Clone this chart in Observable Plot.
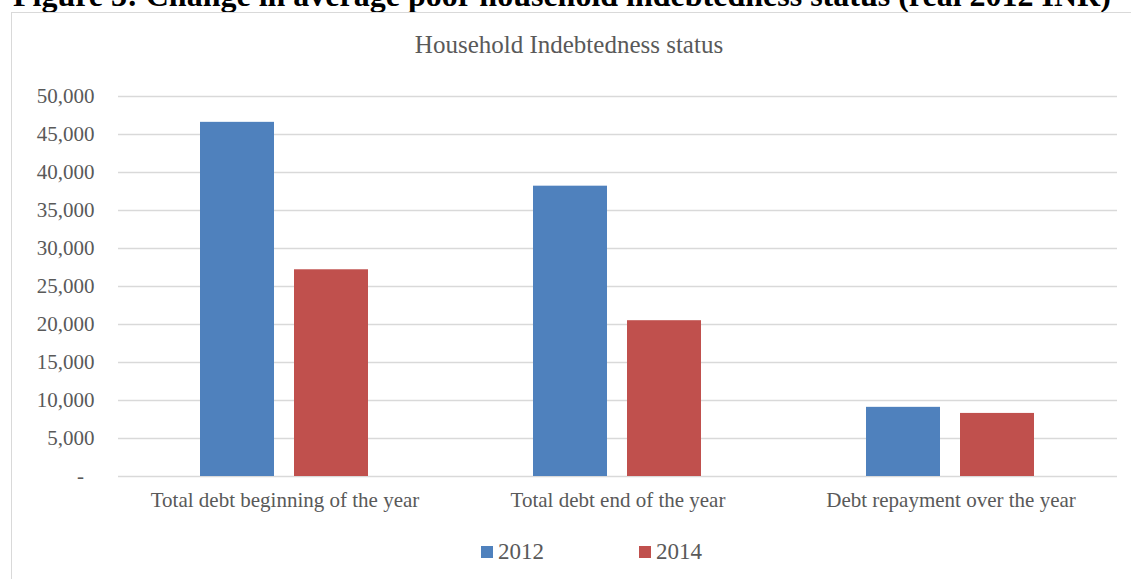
<!DOCTYPE html>
<html>
<head>
<meta charset="utf-8">
<script src="https://cdn.jsdelivr.net/npm/d3@7"></script>
<script src="https://cdn.jsdelivr.net/npm/@observablehq/plot@0.6"></script>
<style>
  html, body { margin: 0; padding: 0; background: #fff; width: 1131px; height: 579px; overflow: hidden; position: relative; }
  .serif { font-family: "Liberation Serif", "Times New Roman", serif; }
  #caption { position: absolute; left: 13px; top: -21px; font-size: 32px; line-height: 32px; font-weight: bold; color: #000; white-space: nowrap; }
  #frame { position: absolute; left: 11px; top: 12px; width: 1200px; height: 700px; border: 1.5px solid #d9d9d9; }
  #title { position: absolute; left: 0; width: 1138px; top: 32px; text-align: center; font-size: 25px; line-height: 25px; color: #595959; white-space: nowrap; }
  #chart { position: absolute; left: 0; top: 0; }
  .leg { position: absolute; top: 540px; display: flex; align-items: center; font-size: 23px; line-height: 23px; color: #595959; }
  .sw { width: 12px; height: 12px; margin-right: 5px; }
</style>
</head>
<body>
<div id="caption" class="serif"></div>
<div id="frame"></div>
<div id="title" class="serif"></div>
<div id="chart"></div>
<div id="legend"></div>
<script>
const captionText = "Figure 3: Change in average poor household indebtedness status (real 2012 INR)";
const chartTitle = "Household Indebtedness status";
const categories = ["Total debt beginning of the year", "Total debt end of the year", "Debt repayment over the year"];
const years = ["2012", "2014"];
const values2012 = [46600, 38200, 9100];
const values2014 = [27200, 20500, 8300];
const colors = ["#4F81BD", "#C0504D"];
const yTicks = [0, 5000, 10000, 15000, 20000, 25000, 30000, 35000, 40000, 45000, 50000];

const data = categories.flatMap((c, i) => [
  {category: c, year: years[0], value: values2012[i]},
  {category: c, year: years[1], value: values2014[i]}
]);

document.getElementById("caption").textContent = captionText;
document.getElementById("title").textContent = chartTitle;

const fmt = d3.format(",");
const chart = Plot.plot({
  width: 1131,
  height: 510,
  marginLeft: 117,
  marginRight: 13,
  marginTop: 96,
  marginBottom: 34,
  style: {fontFamily: '"Liberation Serif", "Times New Roman", serif', fontSize: "21px", color: "#595959", background: "transparent", overflow: "visible"},
  fx: {domain: categories, padding: 0, axis: "bottom", label: null, tickSize: 0, tickPadding: 16},
  x: {domain: years, paddingInner: 0.2105, paddingOuter: 0.859, axis: null},
  y: {domain: [0, 50000], ticks: yTicks, tickFormat: d => d === 0 ? "-\u2007" : fmt(d), tickSize: 0, tickPadding: 24, label: null},
  color: {domain: years, range: colors},
  marks: [
    Plot.ruleY(yTicks, {stroke: "#d9d9d9", strokeWidth: 1.5}),
    Plot.barY(data, {fx: "category", x: "year", y: "value", fill: "year"})
  ]
});
document.getElementById("chart").appendChild(chart);

const legend = document.getElementById("legend");
const legLeft = [481, 639];
years.forEach((y, i) => {
  const item = document.createElement("div");
  item.className = "leg serif";
  item.style.left = legLeft[i] + "px";
  const sw = document.createElement("span");
  sw.className = "sw";
  sw.style.background = colors[i];
  const t = document.createElement("span");
  t.textContent = y;
  item.appendChild(sw);
  item.appendChild(t);
  legend.appendChild(item);
});
</script>
</body>
</html>
